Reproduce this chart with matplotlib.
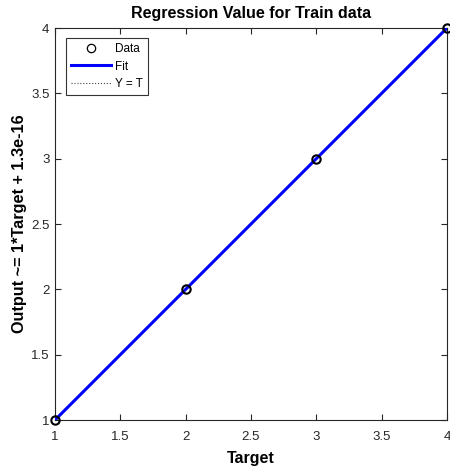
import matplotlib
matplotlib.use('Agg')
import matplotlib.pyplot as plt

plt.rcParams['font.family'] = ['Liberation Sans', 'DejaVu Sans']

target = [1, 2, 3, 4]
output = [1, 2, 3, 4]
fit_x = [1, 4]
fit_y = [1, 4]
xticks = [1, 1.5, 2, 2.5, 3, 3.5, 4]
yticks = [1, 1.5, 2, 2.5, 3, 3.5, 4]
tick_labels = ['1', '1.5', '2', '2.5', '3', '3.5', '4']

fig = plt.figure(figsize=(4.5, 4.66), dpi=100)
ax = fig.add_axes([0.1222, 0.0987, 0.8711, 0.8412])

ax.plot(fit_x, fit_y, ':', color='#444444', linewidth=0.8, label='Y = T', zorder=2)
ax.plot(fit_x, fit_y, '-', color='#0000ff', linewidth=2.2, label='Fit', zorder=3)
ax.plot(target, output, 'o', markerfacecolor='none', markeredgecolor='black',
        markersize=6, markeredgewidth=1.5, label='Data', linestyle='none',
        clip_on=False, zorder=4)

ax.set_xlim(1, 4)
ax.set_ylim(1, 4)
ax.set_xticks(xticks)
ax.set_yticks(yticks)
ax.set_xticklabels(tick_labels)
ax.set_yticklabels(tick_labels)
ax.tick_params(direction='in', length=4, width=0.8, colors='#262626',
               labelsize=9.5, top=True, right=True)
ax.tick_params(axis='x', pad=8)
ax.tick_params(axis='y', pad=4)
for s in ax.spines.values():
    s.set_color('#262626')
    s.set_linewidth(0.8)

ax.set_title('Regression Value for Train data', fontsize=11.5, fontweight='bold', pad=7)
ax.set_xlabel('Target', fontsize=11.5, fontweight='bold', labelpad=6)
ax.set_ylabel('Output ~= 1*Target + 1.3e-16', fontsize=11.7, fontweight='bold', labelpad=3)

handles, labels = ax.get_legend_handles_labels()
order = [2, 1, 0]
leg = ax.legend([handles[i] for i in order], [labels[i] for i in order],
                loc='upper left', bbox_to_anchor=(11 / 392, 1 - 10 / 392),
                borderaxespad=0, fontsize=8.5, frameon=True, fancybox=False,
                edgecolor='black', handlelength=3.4, handletextpad=0.3,
                labelspacing=0.45, borderpad=0.45)
leg.get_frame().set_linewidth(0.8)
leg.legend_handles[0].set_markeredgewidth(0.9)

fig.savefig('out.png', dpi=100)
